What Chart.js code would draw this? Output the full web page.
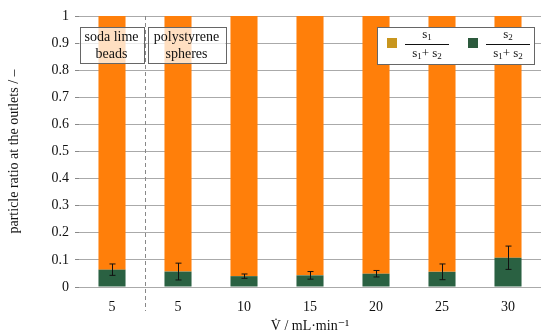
<!DOCTYPE html>
<html>
<head>
<meta charset="utf-8">
<script src="https://cdn.jsdelivr.net/npm/chart.js@4.4.1/dist/chart.umd.min.js"></script>
<style>
  html, body { margin: 0; padding: 0; background: #fff; }
  #wrap { width: 550px; height: 335px; }
</style>
</head>
<body>
<div id="wrap"><canvas id="chart"></canvas></div>
<script>
const labels = ['5', '5', '10', '15', '20', '25', '30'];
// s2 / (s1 + s2), bottom part of each bar
const s2Ratio = [0.064, 0.057, 0.040, 0.043, 0.049, 0.056, 0.108];
// s1 / (s1 + s2), top part
const s1Ratio = [0.936, 0.943, 0.960, 0.957, 0.951, 0.944, 0.892];
// half length of the error bars on s2
const s2Error = [0.021, 0.031, 0.008, 0.014, 0.012, 0.029, 0.043];
const groupNames = [['soda lime', 'beads'], ['polystyrene', 'spheres']];

const SERIF = '"Liberation Serif", "DejaVu Serif", serif';
const orange = '#ff7f0a';
const green = '#2a6142';

// writes a run of [text, isSubscript] parts centred on cx
function subText(ctx, parts, cx, y) {
  const big = '13px ' + SERIF, small = '9px ' + SERIF;
  let w = 0;
  parts.forEach(([t, sub]) => { ctx.font = sub ? small : big; w += ctx.measureText(t).width; });
  let px = cx - w / 2;
  ctx.textAlign = 'left';
  parts.forEach(([t, sub]) => {
    ctx.font = sub ? small : big;
    ctx.fillText(t, px, sub ? y + 3 : y);
    px += ctx.measureText(t).width;
  });
  ctx.textAlign = 'center';
}

const extras = {
  id: 'extras',
  afterDatasetsDraw(chart) {
    const { ctx, chartArea: a, scales: { x, y } } = chart;
    ctx.save();

    // error bars
    ctx.strokeStyle = '#111';
    ctx.lineWidth = 1;
    s2Error.forEach((e, i) => {
      const px = Math.round(x.getPixelForValue(i)) + 0.5;
      const top = y.getPixelForValue(s2Ratio[i] + e);
      const bot = y.getPixelForValue(s2Ratio[i] - e);
      ctx.beginPath();
      ctx.moveTo(px, top); ctx.lineTo(px, bot);
      ctx.moveTo(px - 3, top); ctx.lineTo(px + 3, top);
      ctx.moveTo(px - 3, bot); ctx.lineTo(px + 3, bot);
      ctx.stroke();
    });

    // dashed separator between the two materials
    const sep = Math.round((x.getPixelForValue(0) + x.getPixelForValue(1)) / 2) + 0.5;
    ctx.strokeStyle = '#888';
    ctx.setLineDash([4, 3]);
    ctx.beginPath();
    ctx.moveTo(sep, a.top);
    ctx.lineTo(sep, a.bottom + 24);
    ctx.stroke();
    ctx.setLineDash([]);

    // material boxes
    ctx.font = '14px ' + SERIF;
    ctx.textAlign = 'center';
    ctx.textBaseline = 'middle';
    const boxes = [[a.left + 0.5, sep - 2], [sep + 2, sep + 80]];
    boxes.forEach(([l, r], k) => {
      ctx.fillStyle = 'rgba(255,255,255,0.75)';
      ctx.fillRect(l, a.top + 11, r - l, 36);
      ctx.strokeStyle = '#666';
      ctx.strokeRect(Math.round(l) + 0.5, a.top + 11.5, Math.round(r - l), 36);
      ctx.fillStyle = '#111';
      ctx.fillText(groupNames[k][0], (l + r) / 2, a.top + 21);
      ctx.fillText(groupNames[k][1], (l + r) / 2, a.top + 38);
    });

    // legend
    const lx = a.right - 164, ly = a.top + 11;
    ctx.fillStyle = '#fff';
    ctx.fillRect(lx, ly, 157, 37);
    ctx.strokeStyle = '#666';
    ctx.strokeRect(lx + 0.5, ly + 0.5, 157, 37);
    const fraction = (sx, color, num) => {
      ctx.fillStyle = color;
      ctx.fillRect(sx, ly + 11, 10, 10);
      const cx = sx + 40;
      ctx.strokeStyle = '#111';
      ctx.beginPath();
      ctx.moveTo(cx - 22, ly + 17.5); ctx.lineTo(cx + 22, ly + 17.5);
      ctx.stroke();
      ctx.fillStyle = '#111';
      subText(ctx, [['s', false], [num, true]], cx, ly + 8);
      subText(ctx, [['s', false], ['1', true], ['+ s', false], ['2', true]], cx, ly + 27);
    };
    fraction(lx + 10, '#c8961e', '1');
    fraction(lx + 91, '#2c5a3d', '2');

    ctx.restore();
  }
};

new Chart(document.getElementById('chart'), {
  type: 'bar',
  data: {
    labels: labels,
    datasets: [
      { label: 's2', data: s2Ratio, backgroundColor: green },
      { label: 's1', data: s1Ratio, backgroundColor: orange }
    ]
  },
  options: {
    responsive: true,
    maintainAspectRatio: false,
    animation: false,
    layout: { padding: { top: 16, right: 9, left: 0, bottom: 0 } },
    datasets: { bar: { categoryPercentage: 1, barPercentage: 0.41 } },
    plugins: { legend: { display: false }, tooltip: { enabled: false } },
    scales: {
      x: {
        stacked: true,
        grid: { display: false },
        border: { display: false },
        ticks: { color: '#111', font: { family: SERIF, size: 14 }, padding: 4 },
        title: {
          display: true, text: 'V\u0307 / mL\u00b7min\u207b\u00b9', color: '#111',
          font: { family: SERIF, size: 14 }, padding: { top: 4, bottom: 0 }
        },
        afterFit: s => { s.height = 48; }
      },
      y: {
        stacked: true,
        min: 0, max: 1,
        grid: { color: '#aaa', tickLength: 4, tickColor: '#888' },
        border: { display: false },
        ticks: {
          stepSize: 0.1, color: '#111', font: { family: SERIF, size: 14 }, padding: 6,
          callback: v => String(+v.toFixed(1))
        },
        title: {
          display: true, text: 'particle ratio at the outlets / \u2013', color: '#111',
          font: { family: SERIF, size: 14 }, padding: { top: 6, bottom: 0 }
        },
        afterFit: s => { s.width = 79; }
      }
    }
  },
  plugins: [extras]
});
</script>
</body>
</html>
